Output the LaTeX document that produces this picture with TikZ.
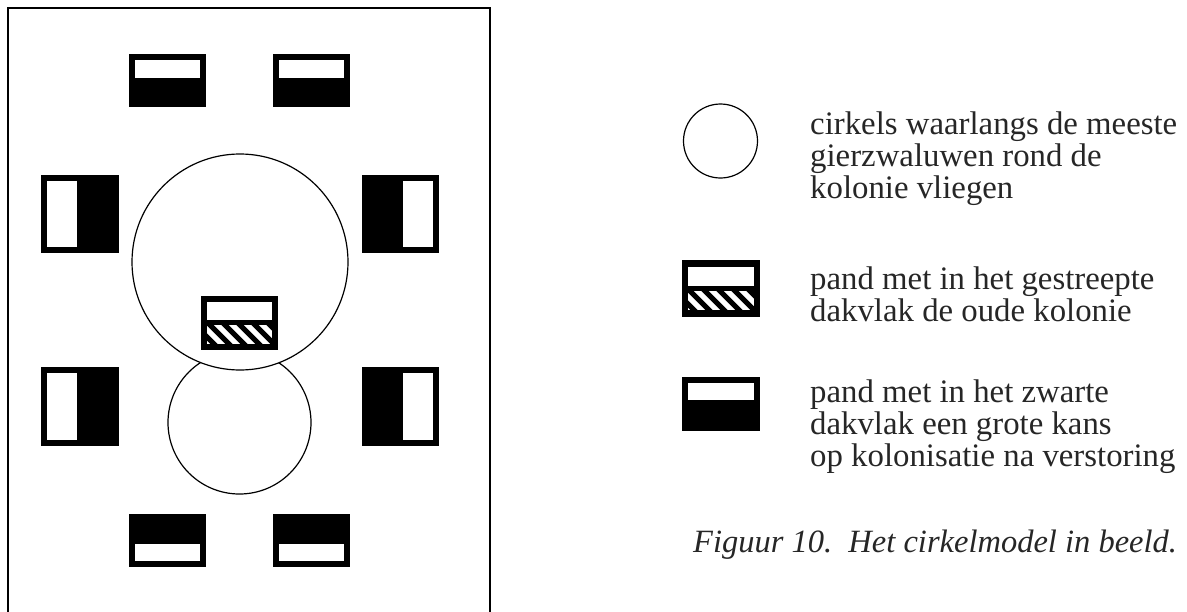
\documentclass[tikz,border=0pt]{standalone}
\usepackage{fontspec}
\setmainfont{Liberation Serif}
\begin{document}
\begin{tikzpicture}[x=1pt, y=-1pt,
  mapframe/.style={draw=black, line width=1.5pt},
  flightpath/.style={draw=black, line width=1.2pt},
  roof/.style={fill=black},
  opening/.style={fill=white},
  stripe/.style={draw=black, line width=5pt},
  legendtext/.style={anchor=base west, inner sep=0pt, text=black!85,
    font=\fontsize{32.8}{36}\selectfont},
  figcaption/.style={anchor=base west, inner sep=0pt, text=black!85,
    font=\fontsize{32.5}{36}\selectfont\itshape}]
\useasboundingbox (0,0) rectangle (1187,611);
\clip (0,0) rectangle (1187,611);

% site boundary, running off the lower edge
\draw[mapframe] (8,8) rectangle (490,640);

% flight circles around the colony
\draw[flightpath] (239.5,422.5) circle[radius=71.5pt];
\filldraw[flightpath, fill=white] (240,262) circle[radius=108pt];

% buildings above and below
\fill[roof] (129,54) rectangle (206,107);
\fill[opening] (135,60) rectangle (200,78);
\fill[roof] (273,54) rectangle (350,107);
\fill[opening] (279,60) rectangle (344,78);
\fill[roof] (129,514) rectangle (206,567);
\fill[opening] (135,544) rectangle (200,561);
\fill[roof] (273,514) rectangle (350,567);
\fill[opening] (279,544) rectangle (344,561);

% buildings left and right
\fill[roof] (41,175) rectangle (119,253);
\fill[opening] (47,181) rectangle (77,247);
\fill[roof] (362,175) rectangle (439,253);
\fill[opening] (403,181) rectangle (433,247);
\fill[roof] (41,367) rectangle (119,446);
\fill[opening] (47,373) rectangle (77,440);
\fill[roof] (362,367) rectangle (439,446);
\fill[opening] (403,373) rectangle (433,440);

% the old colony building with its striped roof face
\fill[roof] (201,296) rectangle (278,350);
\fill[opening] (207,302) rectangle (272,320);
\begin{scope}
  \clip (207,325) rectangle (272,344);
  \fill[opening] (207,325) rectangle (272,344);
  \foreach \x in {170,185,...,290}
    \draw[stripe] (\x,315) -- (\x+35,350);
\end{scope}

% legend symbols
\draw[flightpath] (720.5,141) circle[radius=37pt];

\fill[roof] (682,260) rectangle (760,317);
\fill[opening] (688,267) rectangle (754,286);
\begin{scope}
  \clip (688,291) rectangle (754,310);
  \fill[opening] (688,291) rectangle (754,310);
  \foreach \x in {650,665,...,770}
    \draw[stripe] (\x,281) -- (\x+35,316);
\end{scope}

\fill[roof] (682,377) rectangle (760,431);
\fill[opening] (688,383) rectangle (754,400);

% legend texts
\node[legendtext] (c1) at (810,134) {cirkels waarlangs de meeste};
\node[legendtext] (c2) at (810,166) {gierzwaluwen rond de};
\node[legendtext] (c3) at (810,198) {kolonie vliegen};
\node[legendtext] (h1) at (810,289) {pand met in het gestreepte};
\node[legendtext] (h2) at (810,321) {dakvlak de oude kolonie};
\node[legendtext] (b1) at (810,402) {pand met in het zwarte};
\node[legendtext] (b2) at (810,434) {dakvlak een grote kans};
\node[legendtext] (b3) at (810,466) {op kolonisatie na verstoring};

\node[figcaption] (fig) at (693,552) {Figuur 10.~~Het cirkelmodel in beeld.};
\end{tikzpicture}
\end{document}
